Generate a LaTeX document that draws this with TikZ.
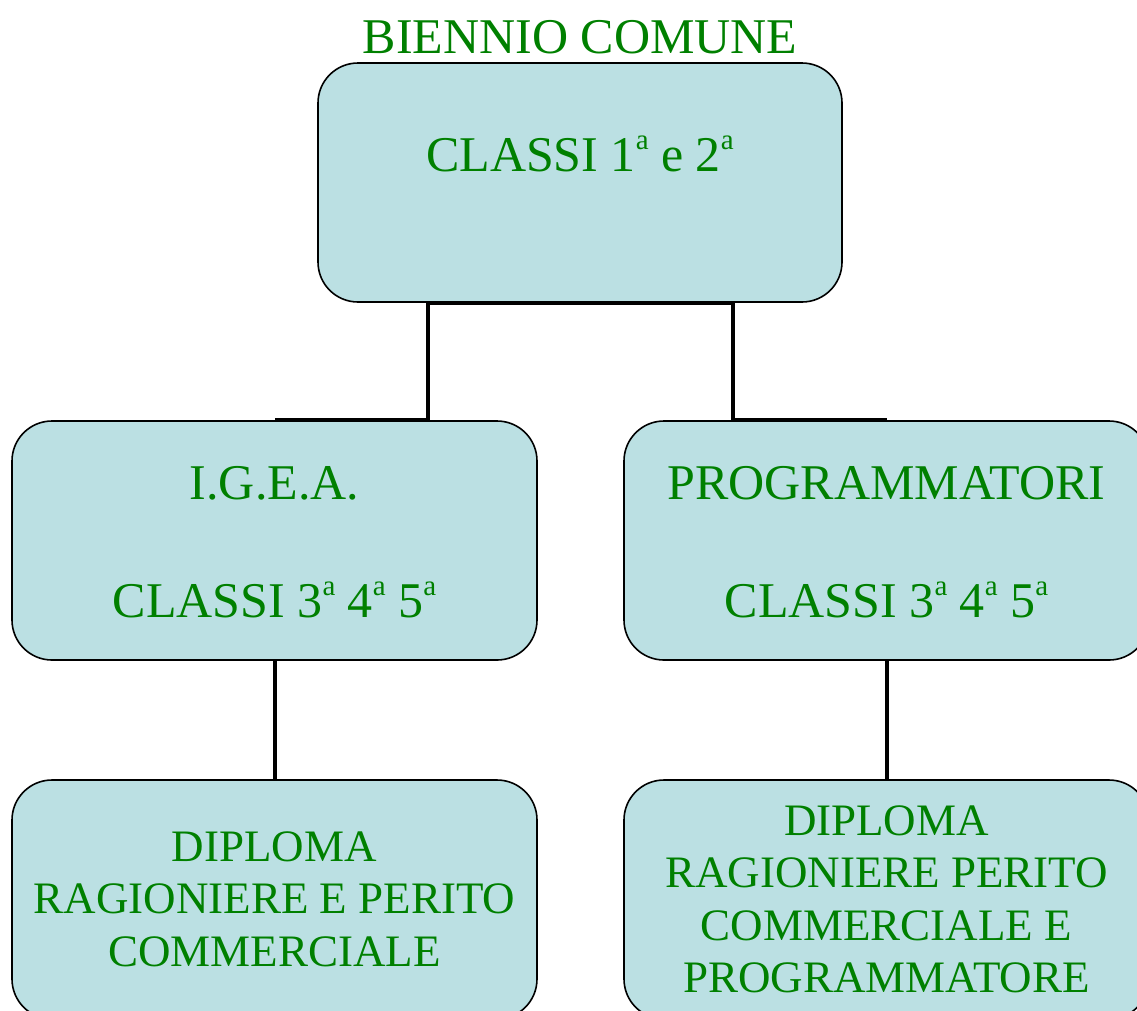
\documentclass[tikz,border=0pt]{standalone}
\usepackage{fontspec}
\setmainfont{Liberation Serif}
\usepackage{tikz}
\usetikzlibrary{%
  positioning
 ,calc
}
\definecolor{boxfill}{RGB}{187,224,227}
\definecolor{dkgreen}{RGB}{0,128,0}
\tikzstyle{box}=[draw=black,line width=1.6pt,fill=boxfill,rounded corners=40pt,minimum width=525pt,minimum height=239pt,inner sep=0pt]
\tikzstyle{txt}=[text=dkgreen,align=center,inner sep=0pt,font=\fontsize{50}{59}\selectfont]
\tikzstyle{txts}=[txt,font=\fontsize{45}{52.5}\selectfont]
\tikzstyle{conn}=[draw=black,line width=4.5pt]
\newcommand{\sa}{\raisebox{0.44em}{\fontsize{29}{29}\selectfont a}}

\begin{document}
\begin{tikzpicture}[x=1pt,y=-1pt]
  \useasboundingbox (0,0) rectangle (1137,1010);
  \node[txt,anchor=base] (titolo) at (580,53) {BIENNIO COMUNE};
  \node[box,minimum width=524pt] (c_12) at (580,182.5) {};
  \node[box] (igea) at (274.5,540.5) {};
  \node[box] (prog) at (886.5,540.5) {};
  \node[box] (dip_1) at (274.5,899.5) {};
  \node[box] (dip_2) at (886.5,899.5) {};
% testi
  \node[txt,anchor=base] (t_12) at ([yshift=-109pt]c_12.north) {CLASSI 1\sa{} e 2\sa};
  \node[txt,anchor=base] (t_igea) at ([yshift=-79pt]igea.north) {I.G.E.A.};
  \node[txt,anchor=base] (t_igea2) at ([yshift=-197pt]igea.north) {CLASSI 3\sa{} 4\sa{} 5\sa};
  \node[txt,anchor=base] (t_prog) at ([yshift=-79pt]prog.north) {PROGRAMMATORI};
  \node[txt,anchor=base] (t_prog2) at ([yshift=-197pt]prog.north) {CLASSI 3\sa{} 4\sa{} 5\sa};
  \node[txts,anchor=north] (t_dip1) at ([yshift=-52pt]dip_1.north) {DIPLOMA\\RAGIONIERE E PERITO\\COMMERCIALE};
  \node[txts,anchor=north] (t_dip2) at ([yshift=-26pt]dip_2.north) {DIPLOMA\\RAGIONIERE PERITO\\COMMERCIALE E\\PROGRAMMATORE};
% connettori
  \draw[conn] (c_12.south) -- ++(-152,0) |- (igea.north);
  \draw[conn] (c_12.south) -- ++(153,0) |- (prog.north);
  \draw[conn,line width=4pt] (igea.south) -- (dip_1.north);
  \draw[conn,line width=4pt] (prog.south) -- (dip_2.north);
\end{tikzpicture}
\end{document}
